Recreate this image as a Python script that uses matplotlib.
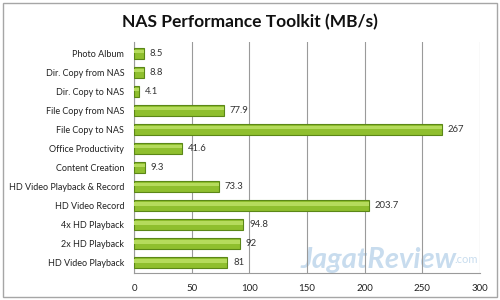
import matplotlib.pyplot as plt
from matplotlib.patches import Rectangle

categories = [
    "Photo Album", "Dir. Copy from NAS", "Dir. Copy to NAS", "File Copy from NAS",
    "File Copy to NAS", "Office Productivity", "Content Creation",
    "HD Video Playback & Record", "HD Video Record", "4x HD Playback",
    "2x HD Playback", "HD Video Playback",
]
values = [8.5, 8.8, 4.1, 77.9, 267, 41.6, 9.3, 73.3, 203.7, 94.8, 92, 81]
valueLabels = ["8.5", "8.8", "4.1", "77.9", "267", "41.6", "9.3", "73.3", "203.7", "94.8", "92", "81"]
xTicks = [0, 50, 100, 150, 200, 250, 300]

plt.rcParams["font.family"] = ["Lato", "DejaVu Sans"]

fig = plt.figure(figsize=(5, 3), dpi=100)
fig.patch.set_facecolor("white")
fig.add_artist(Rectangle((0.006, 0.01), 0.988, 0.98, transform=fig.transFigure,
                         fill=False, edgecolor="#a6a6a6", linewidth=1))

ax = fig.add_axes([0.268, 0.09, 0.692, 0.77])
pos = list(range(len(categories)))

# watermark behind the bars
ax.text(0.48, 0.055, "JagatReview", transform=ax.transAxes, ha="left", va="center",
        fontsize=21, fontweight="bold", color="#4a8ec8", alpha=0.3, style="italic", zorder=1)
ax.text(0.925, 0.06, ".com", transform=ax.transAxes, ha="left", va="center",
        fontsize=8, color="#4a8ec8", alpha=0.3, zorder=1)

ax.barh(pos, values, height=0.62, color="#8fbf2e", edgecolor="#5b8717", linewidth=0.8, zorder=3)
# light highlight along the top of each bar
ax.barh([p - 0.1 for p in pos], values, height=0.2, color="#b5db5c", linewidth=0, zorder=4)

for p, v, lab in zip(pos, values, valueLabels):
    ax.text(v + 5, p, lab, va="center", ha="left", fontsize=6.8, color="#333333")

ax.set_yticks(pos)
ax.set_yticklabels(categories, fontsize=6.5, color="#222222")
ax.invert_yaxis()
ax.set_ylim(len(categories) - 0.45, -0.6)
ax.set_xlim(0, 300)
ax.set_xticks(xTicks)
ax.set_xticklabels([str(t) for t in xTicks], fontsize=7, color="#222222")
ax.tick_params(axis="y", length=0, pad=7)
ax.tick_params(axis="x", length=0, pad=8)
ax.grid(axis="x", color="#9a9a9a", linewidth=0.8, zorder=0)
for side in ["top", "right"]:
    ax.spines[side].set_visible(False)
for side in ["left", "bottom"]:
    ax.spines[side].set_color("#9a9a9a")
    ax.spines[side].set_linewidth(0.8)

fig.text(0.5, 0.925, "NAS Performance Toolkit (MB/s)", ha="center", va="center",
         fontsize=12.5, fontweight="bold", color="#111111")

fig.savefig("out.png", dpi=100)
